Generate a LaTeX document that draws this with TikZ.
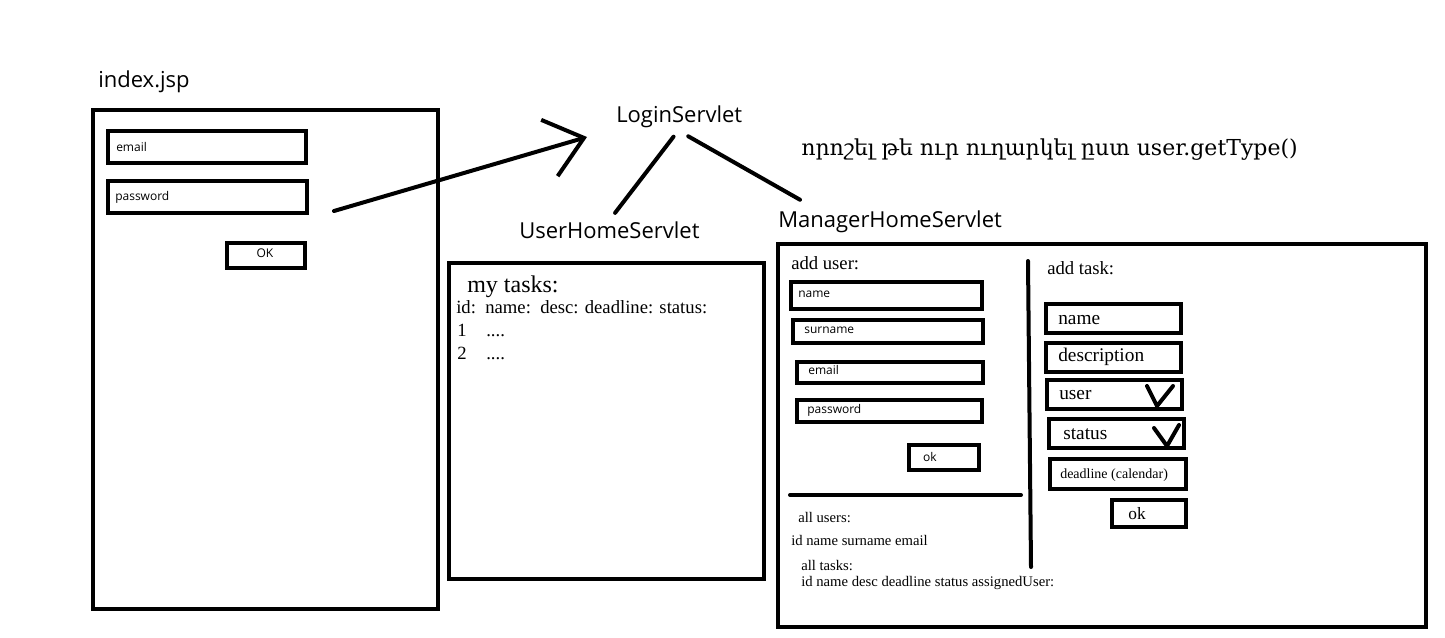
\documentclass[tikz,border=0pt]{standalone}
\usepackage{fontspec}
\setmainfont{Liberation Serif}
\newfontfamily\uisans{Open Sans}
\newfontfamily\armfont[Script=Armenian]{DejaVu Serif}
\usetikzlibrary{arrows.meta,calc}
\tikzset{
  frame/.style={line width=3pt},
  field/.style={line width=3.2pt},
  conn/.style={line width=3pt,line cap=round},
  title/.style={anchor=west,inner sep=0.75pt,font=\uisans\fontsize{16.5}{20}\selectfont},
  hint/.style={anchor=west,inner sep=0.75pt,font=\uisans\fontsize{9}{11}\selectfont},
  btn/.style={inner sep=0.75pt,font=\uisans\fontsize{9}{11}\selectfont},
  head/.style={anchor=west,inner sep=0.75pt,font=\fontsize{14}{16}\selectfont},
  note/.style={anchor=west,inner sep=0.75pt,font=\fontsize{11}{13}\selectfont},
  entry/.style={anchor=west,inner sep=0.75pt,font=\fontsize{14.5}{17}\selectfont},
  cell/.style={anchor=base west,inner sep=0.75pt,font=\fontsize{14}{16}\selectfont},
}
\begin{document}
\begin{tikzpicture}[x=0.75pt,y=0.75pt,yscale=-1,xscale=1]
\useasboundingbox (0,0) rectangle (1445,637);

% index.jsp
\node[title] (indexlbl) at (97,82) {index.jsp};
%Shape: Rectangle
\draw[frame] (93,110) rectangle (438,609);
%Shape: Rectangle
\draw[field] (108,131) rectangle (306,163);
\node[hint] (iemail) at (115,147) {email};
%Shape: Rectangle
\draw[field] (108,181) rectangle (307,213);
\node[hint] (ipass) at (114,197) {password};
%Shape: Rectangle
\draw[field] (227,243) rectangle (305,268);
\node[btn] (iok) at (265,253) {OK};

% servlets
\node[title] (login) at (615,117) {LoginServlet};
\node[title] (userhome) at (518,230) {UserHomeServlet};
\node[title] (mgrhome) at (777,222) {ManagerHomeServlet};
\node[anchor=west,inner sep=0.75pt,font=\armfont\fontsize{16.5}{19}\selectfont] (rule) at (800,150) {որոշել թե ուր ուղարկել ըստ user.getType()};

\coordinate (pwdout) at (334,211);
\coordinate (logintip) at (587,137);
%Straight Lines
\draw[conn,-{Straight Barb[length=27pt,width=44pt,line width=3pt]}] (pwdout) -- (logintip);
%Straight Lines
\draw[conn,shorten <=7pt,shorten >=7pt] (login.south) -- (userhome.north);
%Straight Lines
\draw[conn] ($(login.south)+(9,7)$) -- ($(mgrhome.north west)+(23,-10)$);

% user home page
%Shape: Rectangle
\draw[frame] (449,263) rectangle (764,579);
\node[anchor=west,inner sep=0.75pt,font=\fontsize{18}{21}\selectfont] (mytasks) at (466,287) {my tasks:};
\node[cell] (cols) at (455,313) {id:\ \ name:\ \ desc: deadline: status:};
\node[cell] (row1) at (456,336) {1};
\node[cell] (dots1) at (485,336) {....};
\node[cell] (row2) at (456,359) {2};
\node[cell] (dots2) at (485,359) {....};

% manager home page
%Shape: Rectangle
\draw[frame] (778,244) rectangle (1426,627);
\node[head] (adduser) at (790,263) {add user:};
%Shape: Rectangle
\draw[field] (791,282) rectangle (982,309);
\node[hint] (mname) at (797,294) {name};
%Shape: Rectangle
\draw[field] (793,320) rectangle (983,343);
\node[hint] (msurname) at (803,330) {surname};
%Shape: Rectangle
\draw[field] (797,362) rectangle (983,383);
\node[hint] (memail) at (807,370) {email};
%Shape: Rectangle
\draw[field] (797,400) rectangle (982,422);
\node[hint] (mpass) at (806,410) {password};
%Shape: Rectangle
\draw[field] (909,445) rectangle (979,470);
\node[btn] (mok) at (930,457) {ok};
%Straight Lines
\draw[conn] (790,495) -- (1021,495);
%Straight Lines
\draw[conn] (1028,261) -- (1031,567);
\node[note] (allusers) at (797,518) {all users:};
\node[note] (usercols) at (790,540) {id name surname email};
\node[note] (alltasks) at (800,566) {all tasks:};
\node[note] (taskcols) at (800,583) {id name desc deadline status assignedUser:};

\node[head] (addtask) at (1046,268) {add task:};
%Shape: Rectangle
\draw[field] (1046,304) rectangle (1181,333);
\node[entry] (tname) at (1057,320) {name};
%Shape: Rectangle
\draw[field] (1046,343) rectangle (1181,372);
\node[entry] (tdesc) at (1057,357) {description};
%Shape: Rectangle
\draw[field] (1047,380) rectangle (1182,409);
\node[entry] (tuser) at (1058,395) {user};
\draw[conn] (1147,386) -- (1157,406) -- (1173,386);
%Shape: Rectangle
\draw[field] (1049,419) rectangle (1184,448);
\node[entry] (tstatus) at (1062,434) {status};
\draw[conn] (1154,428) -- (1167,446) -- (1179,425);
%Shape: Rectangle
\draw[field] (1050,459) rectangle (1186,489);
\node[anchor=west,inner sep=0.75pt,font=\fontsize{10.5}{12}\selectfont] (tdead) at (1059,475) {deadline (calendar)};
%Shape: Rectangle
\draw[field] (1112,500) rectangle (1186,527);
\node[inner sep=0.75pt,font=\fontsize{13}{15}\selectfont] (tok) at (1137,514) {ok};
\end{tikzpicture}
\end{document}
